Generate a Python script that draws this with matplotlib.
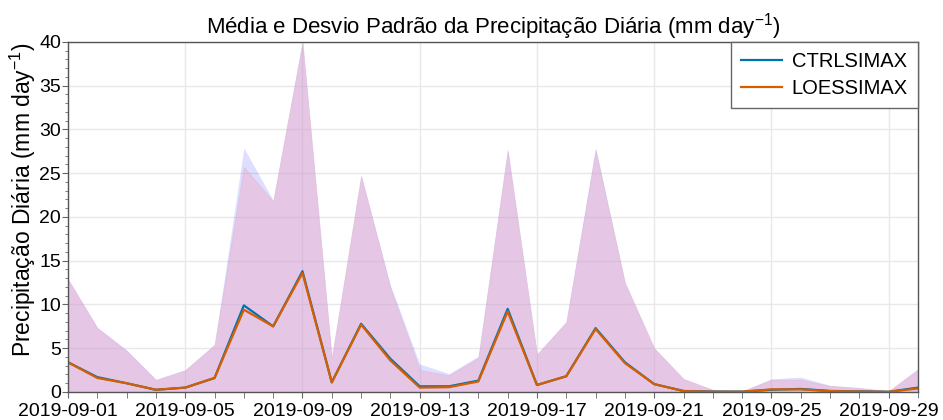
import numpy as np
import pandas as pd
import matplotlib
matplotlib.use("Agg")
import matplotlib.pyplot as plt
import matplotlib.dates as mdates

plt.rcParams['font.family'] = ['Liberation Sans', 'DejaVu Sans']
plt.rcParams['mathtext.fontset'] = 'custom'
plt.rcParams['mathtext.rm'] = 'Liberation Sans'
plt.rcParams['mathtext.default'] = 'regular'

# === Data ===
dates = pd.date_range("2019-09-01", "2019-09-30", freq="D")

ctrl_mean = [3.4, 1.7, 1.0, 0.25, 0.5, 1.6, 9.9, 7.5, 13.8, 1.1, 7.8, 3.8, 0.65, 0.65, 1.3,
             9.5, 0.8, 1.8, 7.3, 3.4, 0.9, 0.12, 0.05, 0.05, 0.25, 0.35, 0.12, 0.07, 0.03, 0.5]
ctrl_std = [9.5, 5.7, 3.8, 1.15, 2.0, 3.8, 18.0, 14.4, 26.2, 2.8, 16.9, 8.4, 2.55, 1.45, 2.8,
            18.2, 3.5, 6.2, 20.7, 9.1, 4.1, 1.38, 0.2, 0.05, 1.25, 1.35, 0.63, 0.43, 0.07, 2.1]

loess_mean = [3.4, 1.6, 1.0, 0.25, 0.5, 1.6, 9.4, 7.5, 13.6, 1.1, 7.7, 3.6, 0.5, 0.55, 1.2,
              9.2, 0.8, 1.8, 7.2, 3.3, 0.9, 0.1, 0.03, 0.03, 0.3, 0.3, 0.1, 0.05, 0.02, 0.4]
loess_std = [9.5, 5.7, 3.7, 1.15, 2.0, 3.8, 16.3, 14.3, 26.4, 2.8, 17.0, 8.3, 2.0, 1.35, 2.7,
             18.4, 3.5, 6.2, 20.4, 9.2, 4.1, 1.4, 0.22, 0.07, 1.1, 1.1, 0.6, 0.4, 0.08, 2.2]

ctrl_mean = np.array(ctrl_mean)
ctrl_std = np.array(ctrl_std)
loess_mean = np.array(loess_mean)
loess_std = np.array(loess_std)

# === Plot ===
fig = plt.figure(figsize=(9.43, 4.2), dpi=100)
ax = fig.add_axes([0.0721, 0.0667, 0.9014, 0.8333])

ax.fill_between(dates, np.clip(ctrl_mean - ctrl_std, 0, None), ctrl_mean + ctrl_std,
                color='blue', alpha=0.13, linewidth=0)
ax.fill_between(dates, np.clip(loess_mean - loess_std, 0, None), loess_mean + loess_std,
                color='#ecb2cc', alpha=0.5, linewidth=0.6, edgecolor='#d9b0d8')
ax.plot(dates, ctrl_mean, color='#0072B2', lw=1.6, label='CTRLSIMAX')
ax.plot(dates, loess_mean, color='#D55E00', lw=1.6, label='LOESSIMAX')

ax.set_xlim(dates[0], dates[-1])
ax.set_ylim(0, 40)
ax.xaxis.set_major_locator(mdates.DayLocator(bymonthday=range(1, 31, 4)))
ax.xaxis.set_minor_locator(mdates.DayLocator())
ax.xaxis.set_major_formatter(mdates.DateFormatter('%Y-%m-%d'))
ax.yaxis.set_major_locator(plt.MultipleLocator(5))
ax.yaxis.set_minor_locator(plt.MultipleLocator(1))

ax.tick_params(axis='both', which='major', labelsize=14, length=4, width=0.8,
               color='#666666', pad=1)
ax.tick_params(axis='x', which='major', pad=4)
ax.tick_params(axis='both', which='minor', length=2.5, width=0.6, color='#666666')
ax.tick_params(axis='x', which='minor', length=4)

ax.set_axisbelow(True)
ax.grid(True, which='major', color='#e8e8e8', lw=1)
for s in ax.spines.values():
    s.set_color('#555555')
    s.set_linewidth(1.0)

ax.set_title('Média e Desvio Padrão da Precipitação Diária (mm day$^{-1}$)',
             fontsize=16, pad=4)
ax.set_ylabel('Precipitação Diária (mm day$^{-1}$)', fontsize=16.5, labelpad=1)
ax.yaxis.label.set_y(0.55)

leg = ax.legend(loc='upper right', fontsize=14.5, fancybox=False, framealpha=1,
                borderaxespad=0, edgecolor='#666666', handletextpad=0.5,
                labelspacing=0.4, borderpad=0.5)
leg.get_frame().set_linewidth(1.0)

fig.savefig('out.png', dpi=100)
